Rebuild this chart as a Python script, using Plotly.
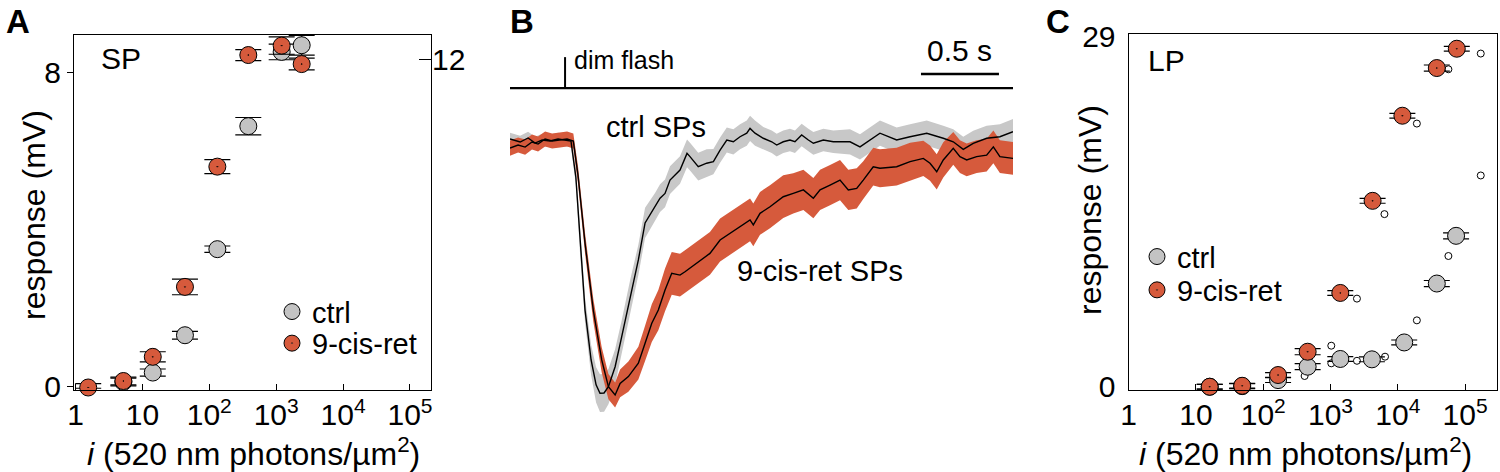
import plotly.graph_objects as go

# ---------------- Panel A : single-photon (SP) intensity-response ----------------
sp_i_ctrl = [1.55, 5.2, 14.3, 43.3, 132, 383, 1208, 2405]
sp_r_ctrl = [-0.14, 0.12, 0.36, 1.31, 3.50, 6.63, 8.52, 8.69]
sp_e_ctrl = [0.10, 0.10, 0.09, 0.10, 0.08, 0.22, 0.20, 0.25]
sp_i_cis = [1.55, 5.2, 14.3, 43.3, 132, 383, 1208, 2405]
sp_r_cis = [-0.02, 0.145, 0.76, 2.54, 5.60, 8.44, 8.68, 8.21]
sp_e_cis = [0.10, 0.10, 0.13, 0.20, 0.18, 0.14, 0.22, 0.15]

# ---------------- Panel C : large-potential (LP) intensity-response ----------------
lp_i_ctrl = [16, 48.6, 166, 457, 1397, 4120, 12450, 38000, 73500]
lp_r_ctrl = [0.0, 0.05, 0.55, 1.66, 2.30, 2.27, 3.67, 8.55, 12.5]
lp_e_ctrl = [0.2, 0.2, 0.2, 0.25, 0.2, 0.2, 0.2, 0.25, 0.25]
lp_i_cis = [16, 48.6, 166, 457, 1397, 4220, 11700, 38000, 75300]
lp_r_cis = [0.0, 0.08, 0.97, 2.90, 7.77, 15.4, 22.45, 26.4, 28.0]
lp_e_cis = [0.2, 0.2, 0.2, 0.25, 0.2, 0.2, 0.2, 0.25, 0.2]
lp_i_open = [171000, 56500, 19200, 6330, 171000, 56500, 2470, 19200, 1026, 1026, 2470, 6460, 412]
lp_r_open = [27.6, 26.3, 21.8, 14.3, 17.5, 10.83, 7.3, 5.5, 3.4, 1.94, 2.15, 2.49, 0.89]

# ---------------- Panel B : mean SP waveforms (normalised) ----------------
t_ctrl = [-0.353, -0.288, -0.237, -0.192, -0.147, -0.096, -0.045, 0.0, 0.038,
          0.069, 0.096, 0.128, 0.167, 0.199, 0.224, 0.25, 0.278, 0.321, 0.363,
          0.417, 0.47, 0.513, 0.577, 0.609, 0.641, 0.673, 0.737,
          0.782, 0.801, 0.854, 0.908, 0.951, 0.994, 1.037, 1.079, 1.122, 1.165,
          1.186, 1.218, 1.271, 1.325, 1.357, 1.399, 1.442, 1.474, 1.517, 1.56,
          1.592, 1.656, 1.72,
          1.827, 1.891, 2.019, 2.126, 2.212, 2.319, 2.425, 2.489, 2.553,
          2.617, 2.703, 2.788, 2.872]
v_ctrl = [0.008, -0.004, 0.012, -0.008, 0.004, 0.0, 0.008, 0.004, 0.0,
          -0.142, -0.405, -0.671, -0.869, -0.968, -1.001, -1.0, -0.975, -0.896, -0.777,
          -0.618, -0.472, -0.325, -0.261, -0.227, -0.208, -0.155, -0.115,
          -0.049, -0.062, -0.102, -0.088, -0.082, -0.036, 0.004, -0.003, 0.017, 0.031,
          0.05, 0.031, 0.011, -0.003, -0.016, -0.003, 0.004, -0.003, 0.024, 0.004,
          -0.009, 0.004, -0.003,
          -0.003, -0.023, 0.031, 0.004, 0.017, 0.031, 0.011, -0.003, -0.033,
          -0.009, 0.011, 0.017, 0.037]
s_ctrl = [0.025, 0.025, 0.025, 0.025, 0.025, 0.025, 0.025, 0.025, 0.025,
          0.03, 0.04, 0.05, 0.06, 0.07, 0.075, 0.075, 0.07, 0.07, 0.065,
          0.065, 0.06, 0.06, 0.055, 0.055, 0.055, 0.055, 0.055,
          0.055, 0.055, 0.055, 0.055, 0.05, 0.05, 0.05, 0.05, 0.05, 0.05,
          0.05, 0.05, 0.045, 0.045, 0.045, 0.045, 0.045, 0.045, 0.045, 0.045,
          0.045, 0.045, 0.045,
          0.05, 0.05, 0.05, 0.05, 0.05, 0.05, 0.05, 0.05, 0.05,
          0.05, 0.05, 0.05, 0.05]

t_cis = [-0.353, -0.301, -0.256, -0.212, -0.173, -0.128, -0.083, -0.032, 0.013,
         0.053, 0.083, 0.128, 0.181, 0.235, 0.278, 0.321, 0.353, 0.406, 0.47,
         0.513, 0.556, 0.598, 0.641, 0.684, 0.737, 0.769, 0.801, 0.844, 0.929,
         0.994, 1.058, 1.122, 1.186, 1.207, 1.25, 1.314, 1.399, 1.463, 1.528,
         1.592, 1.635, 1.699, 1.763, 1.816, 1.87, 1.912, 1.976, 2.019, 2.126,
         2.212, 2.297, 2.34, 2.383, 2.425, 2.489, 2.532, 2.575, 2.639, 2.703,
         2.746, 2.788, 2.872]
v_cis = [-0.028, -0.016, -0.024, -0.004, -0.012, 0.008, 0.0, 0.004, 0.008,
         0.0, -0.135, -0.405, -0.671, -0.869, -0.975, -1.008, -0.962, -0.935, -0.882,
         -0.803, -0.723, -0.671, -0.591, -0.525, -0.532, -0.519, -0.505, -0.485, -0.446,
         -0.393, -0.366, -0.34, -0.313, -0.333, -0.287, -0.261, -0.221, -0.208, -0.194,
         -0.227, -0.194, -0.175, -0.155, -0.194, -0.188, -0.155, -0.102, -0.108, -0.102,
         -0.082, -0.069, -0.088, -0.122, -0.075, -0.029, -0.062, -0.075, -0.062, -0.056,
         -0.023, -0.062, -0.069]
s_cis = [0.03, 0.03, 0.03, 0.03, 0.03, 0.03, 0.03, 0.03, 0.03,
         0.03, 0.035, 0.04, 0.045, 0.05, 0.05, 0.05, 0.055, 0.06, 0.065,
         0.07, 0.075, 0.08, 0.085, 0.085, 0.085, 0.085, 0.085, 0.085, 0.085,
         0.085, 0.085, 0.085, 0.085, 0.085, 0.085, 0.085, 0.085, 0.08, 0.08,
         0.08, 0.08, 0.08, 0.08, 0.08, 0.08, 0.075, 0.075, 0.075, 0.075,
         0.075, 0.07, 0.07, 0.07, 0.07, 0.065, 0.065, 0.065, 0.065, 0.065,
         0.065, 0.065, 0.065]

flash_time = 0.0
scalebar_len = 0.5

RED = "#D65A3C"
GRAY = "#C3C3C3"
BAND_RED = "#D65A3C"
BAND_GRAY = "#C8C8C8"
FONT = "Arial, 'Liberation Sans', Helvetica, sans-serif"
FS = 29          # legend / in-plot labels
FS_TICK = 30     # tick labels
FS_TITLE = 32    # axis titles

W, H = 1500, 472
def px(x):
    return x / W
def py(y):
    return 1 - y / H

fig = go.Figure()

def ir_trace(xs, ys, es, color, sym, xa, ya, legend, name, show=True):
    return go.Scatter(
        x=xs, y=ys, mode="markers", name=name, xaxis=xa, yaxis=ya,
        legend=legend, showlegend=show, cliponaxis=False,
        marker=dict(size=17, color=color, symbol=sym,
                    line=dict(color="black", width=1)),
        error_y=dict(type="data", array=es, visible=True, color="black",
                     thickness=1.2, width=13),
    )

# Panel A
fig.add_trace(ir_trace(sp_i_ctrl, sp_r_ctrl, sp_e_ctrl, GRAY, "circle", "x", "y", "legend", "ctrl"))
fig.add_trace(ir_trace(sp_i_cis, sp_r_cis, sp_e_cis, RED, "circle-dot", "x", "y", "legend2", "9-cis-ret"))
# empty trace so that the right-hand axis of panel A is drawn
fig.add_trace(go.Scatter(x=[], y=[], xaxis="x", yaxis="y2", showlegend=False, hoverinfo="skip"))

# Panel B bands and means
def band(t, v, s, color, name):
    up = [a + b for a, b in zip(v, s)]
    lo = [a - b for a, b in zip(v, s)]
    return go.Scatter(x=t + t[::-1], y=up + lo[::-1], fill="toself", fillcolor=color,
                      line=dict(width=0, color=color), mode="lines", xaxis="x2", yaxis="y3",
                      showlegend=False, hoverinfo="skip", name=name)

fig.add_trace(band(t_ctrl, v_ctrl, s_ctrl, BAND_GRAY, "ctrl sem"))
fig.add_trace(band(t_cis, v_cis, s_cis, BAND_RED, "9-cis sem"))
fig.add_trace(go.Scatter(x=t_ctrl, y=v_ctrl, mode="lines", line=dict(color="black", width=1.4),
                         xaxis="x2", yaxis="y3", showlegend=False, name="ctrl SPs"))
fig.add_trace(go.Scatter(x=t_cis, y=v_cis, mode="lines", line=dict(color="black", width=1.4),
                         xaxis="x2", yaxis="y3", showlegend=False, name="9-cis-ret SPs"))

# Panel C
fig.add_trace(go.Scatter(x=lp_i_open, y=lp_r_open, mode="markers", xaxis="x3", yaxis="y4",
                         showlegend=False, cliponaxis=False,
                         marker=dict(size=7, color="white", line=dict(color="black", width=1))))
fig.add_trace(ir_trace(lp_i_ctrl, lp_r_ctrl, lp_e_ctrl, GRAY, "circle", "x3", "y4", "legend3", "ctrl"))
fig.add_trace(ir_trace(lp_i_cis, lp_r_cis, lp_e_cis, RED, "circle-dot", "x3", "y4", "legend4", "9-cis-ret"))

log_ticks = [1, 10, 100, 1000, 10000, 100000]
log_text = ["1", "10", "10<sup>2</sup>", "10<sup>3</sup>", "10<sup>4</sup>", "10<sup>5</sup>"]

axis_common = dict(showline=True, linecolor="black", linewidth=1.3, showgrid=False,
                   zeroline=False, tickcolor="black", tickwidth=1.3, automargin=False,
                   tickfont=dict(size=FS_TICK, color="black", family=FONT))

fig.update_layout(
    template="none",
    width=W, height=H, margin=dict(l=0, r=0, t=0, b=0, autoexpand=False),
    paper_bgcolor="white", plot_bgcolor="rgba(0,0,0,0)",
    font=dict(family=FONT, size=FS, color="black"),
    xaxis=dict(domain=[px(74), px(431)], type="log", range=[-0.022, 5.314], anchor="y",
               tickvals=log_ticks, ticktext=log_text, ticks="inside", ticklen=6,
               ticklabelstandoff=-2, mirror=True, **axis_common),
    yaxis=dict(domain=[py(390), py(35)], range=[-0.084, 8.95], anchor="x",
               tickvals=[0, 8], ticks="outside", ticklen=6, mirror=True, **axis_common),
    yaxis2=dict(overlaying="y", side="right", anchor="x", range=[-0.12, 12.88],
                tickvals=[12], ticks="inside", ticklen=12, showline=False, showgrid=False,
                zeroline=False, tickcolor="black", tickwidth=1.3, automargin=False,
                tickfont=dict(size=FS_TICK, color="black", family=FONT)),
    xaxis2=dict(domain=[px(510), px(1013)], range=[-0.353, 2.872], visible=False, anchor="y3",
                automargin=False),
    yaxis3=dict(domain=[py(430), py(40)], range=[-1.147, 0.401], visible=False, anchor="x2",
                automargin=False),
    xaxis3=dict(domain=[px(1128.7), px(1496.7)], type="log", range=[0, 5.47], anchor="y4",
                tickvals=log_ticks, ticktext=log_text, ticks="inside", ticklen=6,
                ticklabelstandoff=-2, mirror=True, **axis_common),
    yaxis4=dict(domain=[py(390), py(34)], range=[-0.27, 29.22], anchor="x3",
                tickvals=[0, 29], ticks="", ticklabelstandoff=6, mirror=True, **axis_common),
)

leg = dict(bgcolor="rgba(0,0,0,0)", borderwidth=0, font=dict(size=FS, family=FONT, color="black"),
           xanchor="left", yanchor="middle")
fig.update_layout(
    legend=dict(x=px(272), y=py(311.7), **leg),
    legend2=dict(x=px(272), y=py(343.3), **leg),
    legend3=dict(x=px(1137), y=py(256.7), **leg),
    legend4=dict(x=px(1137), y=py(290), **leg),
)

# B decorations (stimulus monitor + scale bar)
bar_v = 0.21
fig.add_shape(type="line", xref="x2", yref="y3", x0=-0.353, x1=2.872, y0=bar_v, y1=bar_v,
              line=dict(color="black", width=2.2))
fig.add_shape(type="line", xref="x2", yref="y3", x0=flash_time, x1=flash_time, y0=bar_v, y1=0.333,
              line=dict(color="black", width=2))
fig.add_shape(type="line", xref="x2", yref="y3", x0=2.282, x1=2.282 + scalebar_len, y0=0.266, y1=0.266,
              line=dict(color="black", width=2.5))

ann = [
    dict(text="<b>A</b>", x=px(18), y=py(22), size=33),
    dict(text="<b>B</b>", x=px(522), y=py(22), size=33),
    dict(text="<b>C</b>", x=px(1058), y=py(22), size=33),
    dict(text="SP", x=px(121), y=py(58), size=30),
    dict(text="LP", x=px(1166), y=py(60), size=30),
    dict(text="<i>i</i> (520 nm photons/µm<sup>2</sup>)", x=px(253), y=py(452), size=FS_TITLE),
    dict(text="<i>i</i> (520 nm photons/µm<sup>2</sup>)", x=px(1305), y=py(452), size=FS_TITLE),
    dict(text="response (mV)", x=px(34), y=py(215), size=FS_TITLE, angle=-90),
    dict(text="response (mV)", x=px(1090), y=py(210), size=FS_TITLE, angle=-90),
]
for a in ann:
    fig.add_annotation(text=a["text"], x=a["x"], y=a["y"], xref="paper", yref="paper",
                       showarrow=False, textangle=a.get("angle", 0),
                       font=dict(size=a["size"], family=FONT, color="black"),
                       xanchor="center", yanchor="middle")

for text, x, y, size, xa in [
    ("dim flash", 0.042, 0.321, 25, "left"),
    ("0.5 s", 2.532, 0.36, 30, "center"),
    ("ctrl SPs", 0.583, 0.056, 29, "center"),
    ("9-cis-ret SPs", 1.635, -0.516, 29, "center"),
]:
    fig.add_annotation(text=text, x=x, y=y, xref="x2", yref="y3", showarrow=False,
                       font=dict(size=size, family=FONT, color="black"),
                       xanchor=xa, yanchor="middle")

fig.write_html("out.html", config={"displayModeBar": False},
               post_script="document.body.style.margin='0';document.body.style.overflow='hidden';")
